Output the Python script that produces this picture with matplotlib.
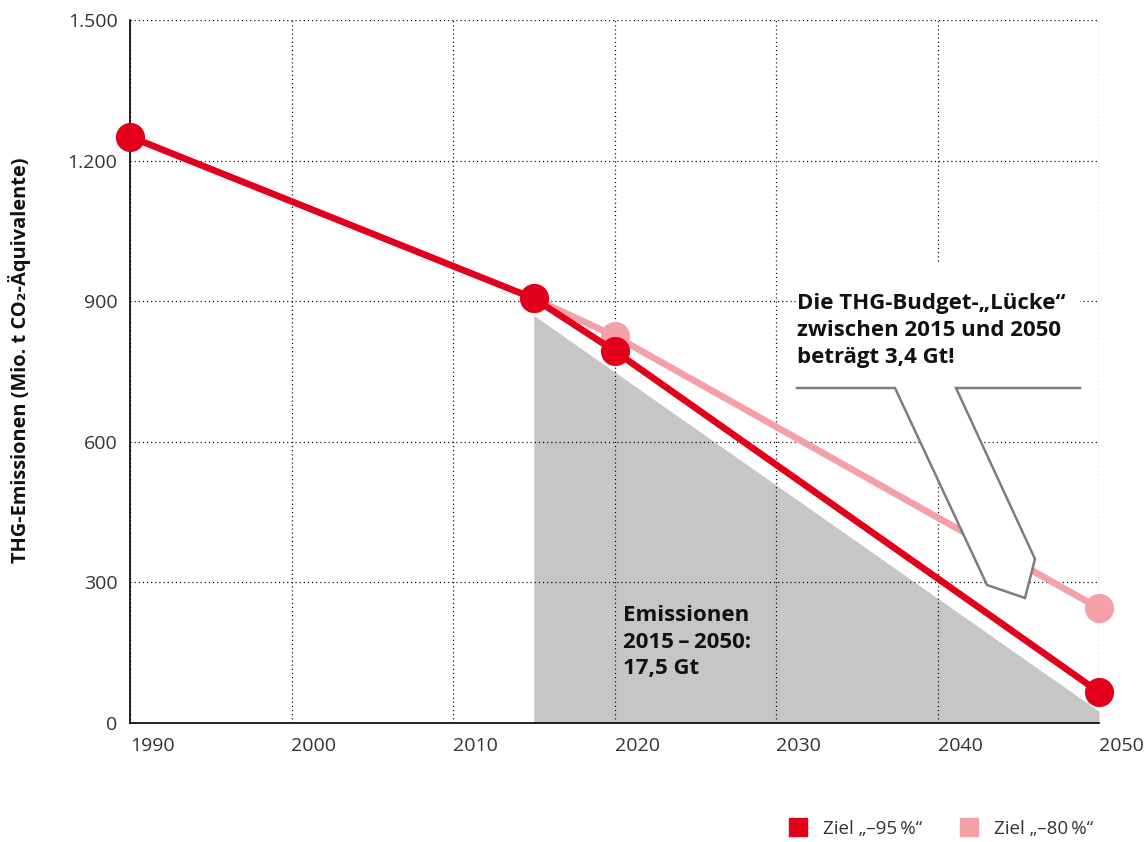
import matplotlib
matplotlib.use("Agg")
import matplotlib.pyplot as plt
from matplotlib.lines import Line2D

plt.rcParams['font.family'] = ['Open Sans', 'DejaVu Sans']

# ---- data ----
years_95 = [1990, 2015, 2020, 2050]
values_95 = [1251, 906, 794, 66]
years_80 = [2015, 2020, 2050]
values_80 = [906, 826, 245]
budget_years = [2015, 2050]
budget_values = [870, 25]
x_ticks = [1990, 2000, 2010, 2020, 2030, 2040, 2050]
y_ticks = [0, 300, 600, 900, 1200, 1500]
y_tick_labels = ["0", "300", "600", "900", "1.200", "1.500"]
legend_labels = ["Ziel „–95\u2009%“", "Ziel „–80\u2009%“"]

RED = "#e2001a"
PINK = "#f4a0a8"
GRAY = "#c6c6c6"
OUT = "#7d7d7d"

W, H = 1146, 842
fig = plt.figure(figsize=(W / 100, H / 100), dpi=100)
ax = fig.add_axes([130 / W, 1 - 723 / H, (1099 - 130) / W, (723 - 20) / H])

ax.set_xlim(1990, 2050)
ax.set_ylim(0, 1500)

# gray budget area
ax.fill_between(budget_years, 0, budget_values, color=GRAY, linewidth=0, zorder=1)

# grid
ax.set_xticks(x_ticks)
ax.set_yticks(y_ticks)
ax.set_yticklabels(y_tick_labels)
ax.grid(True, color="black", linewidth=0.9, linestyle=(0, (0.9, 2.4)), zorder=1.5)
ax.set_axisbelow(False)
for gl in ax.get_xgridlines() + ax.get_ygridlines():
    gl.set_zorder(1.5)

ax.tick_params(length=0, labelsize=14, labelcolor="#333333")
ax.tick_params(axis='x', pad=10)
ax.tick_params(axis='y', pad=9)
for lab in ax.get_xticklabels():
    lab.set_horizontalalignment('left')

for s in ["top", "right"]:
    ax.spines[s].set_visible(False)
for s in ["left", "bottom"]:
    ax.spines[s].set_linewidth(1.2)
    ax.spines[s].set_color("black")
    ax.spines[s].set_zorder(2.6)

# lines
ax.plot(years_80, values_80, color=PINK, linewidth=4.8, marker='o', markersize=21,
        markeredgewidth=0, zorder=3, solid_capstyle='butt', clip_on=False)
ax.plot(years_95, values_95, color=RED, linewidth=4.8, marker='o', markersize=21,
        markeredgewidth=0, zorder=5, solid_capstyle='butt', clip_on=False)

# callout (white area + outline)
px2x = lambda px: 1990 + (px - 130) / ((1099 - 130) / 60)
py2y = lambda py: (723 - py) / ((723 - 20) / 1500)
white_poly = [(797, 388), (895, 388), (987, 585), (1025, 598), (1035, 559), (956, 388),
              (1080, 388), (1080, 262), (797, 262)]
ax.fill([px2x(p[0]) for p in white_poly], [py2y(p[1]) for p in white_poly],
        color="white", linewidth=0, zorder=4)
outline = white_poly[:7]
ax.plot([px2x(p[0]) for p in outline], [py2y(p[1]) for p in outline],
        color=OUT, linewidth=1.8, zorder=4.5, solid_joinstyle='miter')

ax.text(px2x(797), py2y(363), "Die THG-Budget-„Lücke“\nzwischen 2015 und 2050\nbeträgt 3,4 Gt!",
        fontsize=16, fontweight='bold', color="#111111", ha='left', va='baseline',
        linespacing=1.36, zorder=6)

ax.text(px2x(623), py2y(674), "Emissionen\n2015\u2009–\u20092050:\n17,5 Gt",
        fontsize=16, fontweight='bold', color="#111111", ha='left', va='baseline',
        linespacing=1.33, zorder=6)

ax.set_ylabel("THG-Emissionen (Mio. t CO₂-Äquivalente)", fontsize=14.4, fontweight='bold',
              color="#111111")
ax.yaxis.set_label_coords((31 - 130) / (1099 - 130), (723 - 360) / (723 - 20))

handles = [Line2D([], [], linestyle='none', marker='s', markersize=13.5, color=RED),
           Line2D([], [], linestyle='none', marker='s', markersize=13.5, color=PINK)]
fig.legend(handles, legend_labels, loc='center left', bbox_to_anchor=(779 / W, 1 - 829 / H),
           ncol=2, frameon=False, fontsize=13.5, handlelength=1.0, handletextpad=0.85,
           columnspacing=2.0, borderpad=0, labelcolor="#333333")

fig.savefig("out.png", dpi=100)
